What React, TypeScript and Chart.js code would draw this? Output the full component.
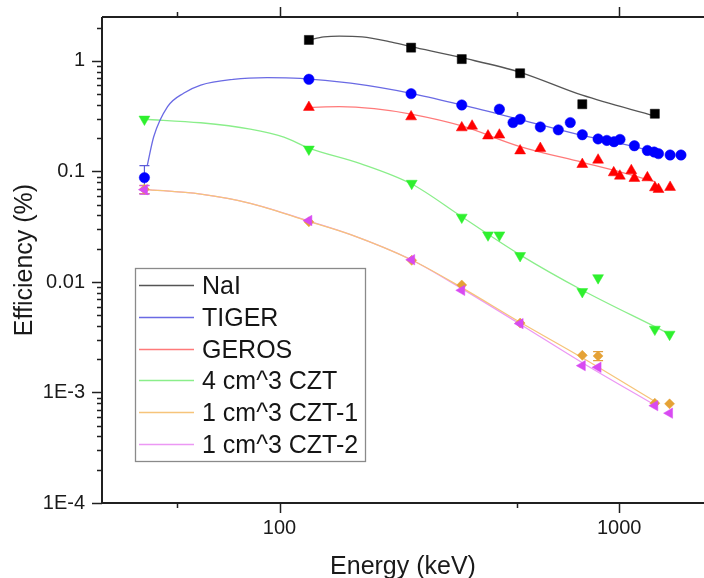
import { useEffect, useRef } from 'react';
import { Chart, registerables } from 'chart.js';

Chart.register(...registerables);

const FONT = '"Liberation Sans", Arial, Helvetica, sans-serif';

// ---------- axis ticks ----------
const xTickValues = [100, 1000];
const xTickLabels = ['100', '1000'];
const xMinorTicks = [50, 500];
const yTickValues = [1e-4, 1e-3, 0.01, 0.1, 1];
const yTickLabels = ['1E-4', '1E-3', '0.01', '0.1', '1'];

// ---------- measured points ----------
const naiE = [122, 244, 344, 511, 779, 1274];
const naiV = [1.55, 1.32, 1.04, 0.774, 0.406, 0.333];

const tigerE = [40, 122, 244, 344, 444, 487, 511, 586, 662, 718, 779, 867, 920, 966, 1006, 1109, 1211, 1268, 1306, 1413, 1521];
const tigerV = [0.088, 0.683, 0.506, 0.4, 0.366, 0.277, 0.297, 0.253, 0.238, 0.277, 0.215, 0.197, 0.191, 0.186, 0.195, 0.171, 0.155, 0.15, 0.145, 0.141, 0.141];

const gerosE = [122, 244, 344, 369, 411, 444, 511, 586, 779, 867, 964, 1005, 1086, 1109, 1211, 1275, 1306, 1413];
const gerosV = [0.381, 0.313, 0.249, 0.258, 0.21, 0.214, 0.154, 0.162, 0.116, 0.127, 0.0976, 0.091, 0.102, 0.0868, 0.0879, 0.0714, 0.069, 0.072];

const czt4E = [40, 122, 245, 344, 411, 444, 511, 779, 867, 1274, 1408];
const czt4V = [0.297, 0.159, 0.078, 0.0385, 0.0266, 0.0266, 0.0173, 0.00817, 0.0109, 0.00373, 0.00336];

const czt1E = [40, 122, 245, 344, 511, 779, 867, 1274, 1408];
const czt1V = [0.069, 0.035, 0.0157, 0.0094, 0.00425, 0.00217, 0.00214, 0.0008, 0.00079];

const czt2E = [40, 122, 245, 344, 511, 779, 867, 1274, 1408];
const czt2V = [0.0685, 0.036, 0.0159, 0.0084, 0.0042, 0.00175, 0.00169, 0.00076, 0.00065];

// ---------- fitted curves ----------
const naiFitE = [122, 135, 150, 175, 210, 244, 344, 511, 779, 1274];
const naiFitV = [1.55, 1.65, 1.68, 1.65, 1.5, 1.35, 1.07, 0.79, 0.49, 0.318];

const tigerFitE = [40.8, 42.6, 46.8, 52.3, 58.6, 73, 92, 115, 162, 244, 344, 511, 767, 1100, 1300];
const tigerFitV = [0.114, 0.206, 0.386, 0.513, 0.606, 0.683, 0.707, 0.697, 0.63, 0.51, 0.4, 0.295, 0.214, 0.169, 0.146];

const gerosFitE = [122, 150, 190, 244, 344, 511, 779, 1000, 1275];
const gerosFitV = [0.38, 0.386, 0.37, 0.33, 0.258, 0.168, 0.121, 0.0995, 0.081];

const czt4FitE = [40, 58.6, 82, 103, 122, 173, 245, 344, 511, 777, 1274, 1408];
const czt4FitV = [0.297, 0.276, 0.242, 0.205, 0.163, 0.118, 0.077, 0.0389, 0.0176, 0.00846, 0.00394, 0.00338];

const czt1FitE = [40, 58.6, 82, 122, 162, 245, 344, 511, 779, 1274];
const czt1FitV = [0.069, 0.0623, 0.0515, 0.0353, 0.0268, 0.0158, 0.0089, 0.00432, 0.00206, 0.00083];

const czt2FitE = [40, 58.6, 82, 122, 162, 245, 344, 511, 779, 1274];
const czt2FitV = [0.069, 0.0623, 0.0515, 0.0356, 0.0268, 0.0158, 0.0087, 0.00415, 0.00186, 0.00077];

// ---------- error bars ----------
const errE = [40, 40, 40, 867];
const errV = [0.088, 0.069, 0.0685, 0.00214];
const errD = [0.025, 0.006, 0.006, 0.0002];
const errColors = ['#5a5ad8', '#e0a040', '#d94ef0', '#e0a040'];

// ---------- legend ----------
const legendLabels = ['NaI', 'TIGER', 'GEROS', '4 cm^3 CZT', '1 cm^3 CZT-1', '1 cm^3 CZT-2'];
const lineColors = ['#555555', '#6a6ae4', '#ff7a7a', '#8aee8a', '#f6c47a', '#ec98f4'];

function pts(xs: number[], ys: number[]) {
  return xs.map((x, i) => ({ x, y: ys[i] }));
}

export default function App() {
  const ref = useRef<HTMLCanvasElement>(null);

  useEffect(() => {
    const canvas = ref.current!;

    const axesPlugin = {
      id: 'originAxes',
      afterDraw(chart: any) {
        const { ctx, chartArea: a, scales } = chart;
        const x = scales.x;
        const y = scales.y;
        ctx.save();
        ctx.strokeStyle = '#202020';
        ctx.lineWidth = 2;
        ctx.beginPath();
        ctx.moveTo(a.left, a.top);
        ctx.lineTo(a.left, a.bottom);
        ctx.lineTo(a.right, a.bottom);
        ctx.moveTo(a.left, a.top);
        ctx.lineTo(a.right, a.top);
        ctx.stroke();

        ctx.lineWidth = 1.5;
        ctx.beginPath();
        const yMinor: number[] = [];
        yTickValues.forEach((d) => {
          for (let m = 2; m <= 9; m++) {
            if (m * d <= y.max) yMinor.push(m * d);
          }
        });
        yTickValues.forEach((v) => {
          const p = Math.round(y.getPixelForValue(v)) + 0.5;
          ctx.moveTo(a.left, p);
          ctx.lineTo(a.left - 10, p);
        });
        yMinor.forEach((v) => {
          const p = Math.round(y.getPixelForValue(v)) + 0.5;
          ctx.moveTo(a.left, p);
          ctx.lineTo(a.left - 5, p);
        });
        xTickValues.forEach((v) => {
          const p = Math.round(x.getPixelForValue(v)) + 0.5;
          ctx.moveTo(p, a.bottom);
          ctx.lineTo(p, a.bottom + 10);
          ctx.moveTo(p, a.top);
          ctx.lineTo(p, a.top - 10);
        });
        xMinorTicks.forEach((v) => {
          const p = Math.round(x.getPixelForValue(v)) + 0.5;
          ctx.moveTo(p, a.bottom);
          ctx.lineTo(p, a.bottom + 5);
          ctx.moveTo(p, a.top);
          ctx.lineTo(p, a.top - 5);
        });
        ctx.stroke();
        ctx.restore();
      },
    };

    const errPlugin = {
      id: 'errBars',
      beforeDatasetsDraw(chart: any) {
        const { ctx, scales } = chart;
        ctx.save();
        ctx.lineWidth = 1.2;
        errE.forEach((e, i) => {
          const px = scales.x.getPixelForValue(e);
          const top = scales.y.getPixelForValue(errV[i] + errD[i]);
          const bot = scales.y.getPixelForValue(errV[i] - errD[i]);
          ctx.strokeStyle = errColors[i];
          ctx.beginPath();
          ctx.moveTo(px, top);
          ctx.lineTo(px, bot);
          ctx.moveTo(px - 5, top);
          ctx.lineTo(px + 5, top);
          ctx.moveTo(px - 5, bot);
          ctx.lineTo(px + 5, bot);
          ctx.stroke();
        });
        ctx.restore();
      },
    };

    const legendPlugin = {
      id: 'boxLegend',
      afterDraw(chart: any) {
        const { ctx } = chart;
        const bx = 135, by = 268, bw = 230, bh = 193;
        ctx.save();
        ctx.fillStyle = '#ffffff';
        ctx.fillRect(bx, by, bw, bh);
        ctx.strokeStyle = '#8a8a8a';
        ctx.lineWidth = 1.3;
        ctx.strokeRect(bx + 0.5, by + 0.5, bw, bh);
        ctx.font = `25px ${FONT}`;
        ctx.textAlign = 'left';
        ctx.textBaseline = 'alphabetic';
        legendLabels.forEach((label, i) => {
          const cy = 285 + i * 31.8;
          ctx.strokeStyle = lineColors[i];
          ctx.lineWidth = 1.3;
          ctx.beginPath();
          ctx.moveTo(139, Math.round(cy) + 0.5);
          ctx.lineTo(194, Math.round(cy) + 0.5);
          ctx.stroke();
          ctx.fillStyle = '#151515';
          ctx.fillText(label, 202, cy + 9);
        });
        ctx.restore();
      },
    };

    const fit = (data: any, color: string) => ({
      data,
      showLine: true,
      borderColor: color,
      borderWidth: 1.3,
      pointRadius: 0,
      cubicInterpolationMode: 'monotone' as const,
      order: 10,
    });

    const marks = (data: any, color: string, style: any, radius: number, rotation = 0, order = 1) => ({
      data,
      showLine: false,
      pointStyle: style,
      pointRadius: radius,
      pointRotation: rotation,
      backgroundColor: color,
      borderColor: color,
      borderWidth: 0.5,
      order,
    });

    const chart = new Chart(canvas, {
      type: 'scatter',
      data: {
        datasets: [
          fit(pts(naiFitE, naiFitV), lineColors[0]),
          fit(pts(tigerFitE, tigerFitV), lineColors[1]),
          fit(pts(gerosFitE, gerosFitV), lineColors[2]),
          fit(pts(czt4FitE, czt4FitV), lineColors[3]),
          fit(pts(czt1FitE, czt1FitV), lineColors[4]),
          fit(pts(czt2FitE, czt2FitV), lineColors[5]),
          marks(pts(naiE, naiV), '#000000', 'rect', 6.4),
          marks(pts(tigerE, tigerV), '#0000ff', 'circle', 5.2),
          marks(pts(gerosE, gerosV), '#ff0000', 'triangle', 6.3),
          marks(pts(czt4E, czt4V), '#2ef02e', 'triangle', 6.3, 180),
          marks(pts(czt1E, czt1V), '#e5a236', 'rectRot', 5, 0, 2),
          marks(pts(czt2E, czt2V), '#d84af2', 'triangle', 6, -90, 0),
        ],
      },
      options: {
        responsive: false,
        animation: false,
        devicePixelRatio: 1,
        layout: { autoPadding: false, padding: { left: 0, right: 0, top: 17, bottom: 0 } },
        plugins: { legend: { display: false }, tooltip: { enabled: false } },
        scales: {
          x: {
            type: 'logarithmic',
            min: 30,
            max: 1778,
            grid: { display: false, drawTicks: false },
            border: { display: false },
            afterBuildTicks: (s: any) => {
              s.ticks = xTickValues.map((v) => ({ value: v }));
            },
            afterFit: (s: any) => {
              s.height = 75;
              s.paddingLeft = 0;
              s.paddingRight = 0;
              s.paddingTop = 0;
              s.paddingBottom = 0;
            },
            ticks: {
              autoSkip: false,
              maxRotation: 0,
              padding: 13,
              color: '#1a1a1a',
              font: { family: FONT, size: 20 },
              callback: (v: any) => {
                const i = xTickValues.indexOf(Number(v));
                return i >= 0 ? xTickLabels[i] : '';
              },
            },
            title: {
              display: true,
              text: 'Energy (keV)',
              color: '#1a1a1a',
              font: { family: FONT, size: 25, lineHeight: 1 },
              padding: { top: 0, bottom: -2 },
            },
          },
          y: {
            type: 'logarithmic',
            min: 1e-4,
            max: 2.5,
            grid: { display: false, drawTicks: false },
            border: { display: false },
            afterBuildTicks: (s: any) => {
              s.ticks = yTickValues.map((v) => ({ value: v }));
            },
            afterFit: (s: any) => {
              s.width = 102;
              s.paddingLeft = 0;
              s.paddingRight = 0;
              s.paddingTop = 0;
              s.paddingBottom = 0;
            },
            ticks: {
              autoSkip: false,
              padding: 17,
              color: '#1a1a1a',
              font: { family: FONT, size: 20 },
              callback: (v: any) => {
                const i = yTickValues.findIndex((t) => Math.abs(t - Number(v)) / t < 1e-6);
                return i >= 0 ? yTickLabels[i] : '';
              },
            },
            title: {
              display: true,
              text: 'Efficiency (%)',
              color: '#1a1a1a',
              font: { family: FONT, size: 25, lineHeight: 1 },
              padding: { top: 13, bottom: 0 },
            },
          },
        },
      },
      plugins: [errPlugin, axesPlugin, legendPlugin],
    });

    return () => chart.destroy();
  }, []);

  return (
    <div style={{ position: 'fixed', left: 0, top: 0, width: 704, height: 578, background: '#fff' }}>
      <canvas ref={ref} width={704} height={578} style={{ display: 'block', width: 704, height: 578 }} />
    </div>
  );
}
